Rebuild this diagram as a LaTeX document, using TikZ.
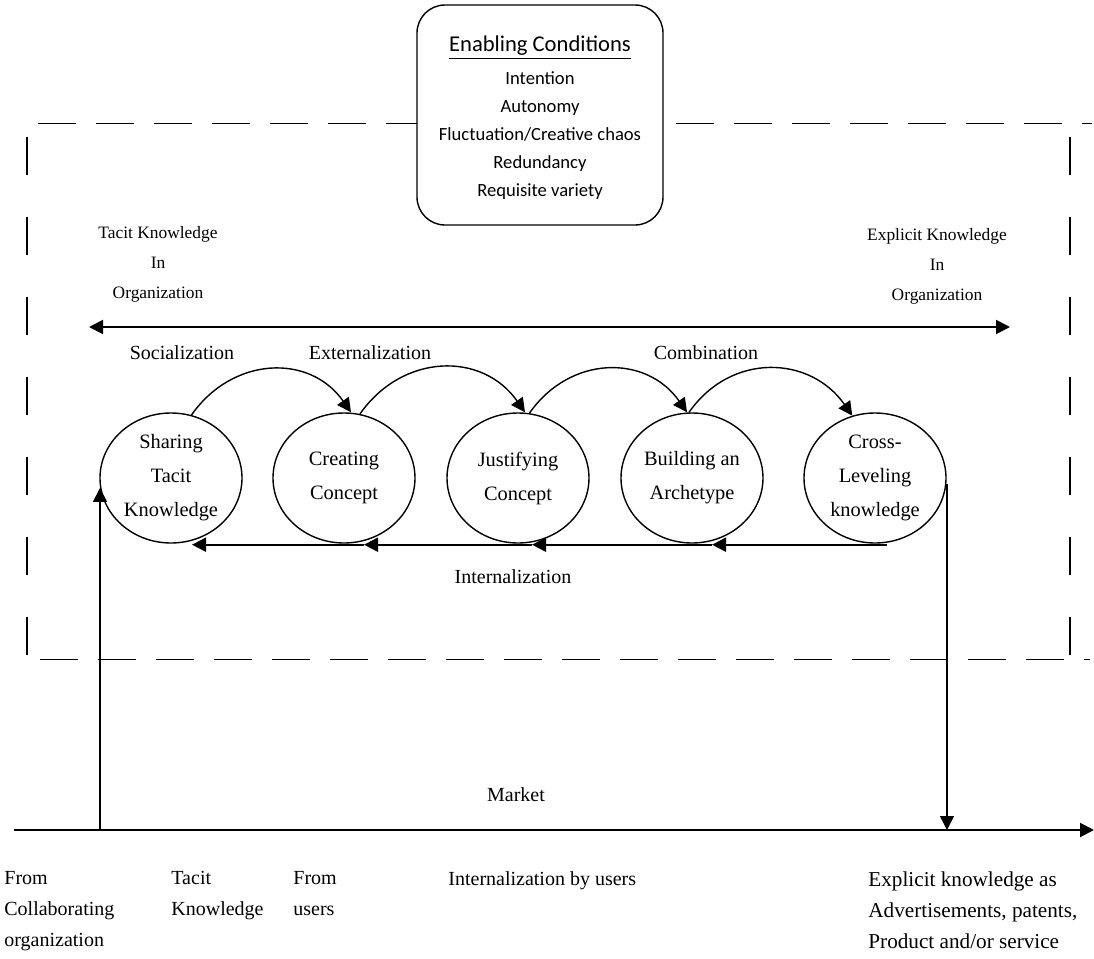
\documentclass[tikz,border=0pt]{standalone}
\usepackage{fontspec}
\setmainfont{Liberation Serif}
\newfontfamily\condfont{Carlito}
\usetikzlibrary{arrows.meta,calc,shapes.geometric}

\begin{document}
\begin{tikzpicture}[x=0.5pt,y=-0.5pt,
  tip/.style={-{Triangle[length=7pt,width=7pt]}},
  bothtips/.style={{Triangle[length=7pt,width=7pt]}-{Triangle[length=7pt,width=7pt]}},
  stage/.style={ellipse,draw,line width=0.7pt,minimum width=71pt,minimum height=65pt,
    inner sep=0pt,align=center,font=\fontsize{10.2}{17}\selectfont},
  lbl/.style={inner sep=0pt,align=center,font=\fontsize{10}{15}\selectfont},
  smalllbl/.style={inner sep=0pt,align=center,font=\fontsize{8.7}{15}\selectfont},
  footlbl/.style={inner sep=0pt,align=left,anchor=north west,font=\fontsize{10}{15.5}\selectfont},
  frameh/.style={line width=0.5pt,dash pattern=on 19pt off 10pt},
  framev/.style={line width=0.6pt,dash pattern=on 19pt off 21pt},
  heavy/.style={line width=1pt},
  arcline/.style={line width=0.7pt,tip,looseness=1.15},
  link/.style={line width=0.75pt}]

\useasboundingbox (0,0) rectangle (1094,959);

% organisation frame
\coordinate (ftl) at (38,123);
\coordinate (ftr) at (1092,123);
\coordinate (fbl) at (40,659);
\coordinate (fbr) at (1090,659);
\coordinate (flt) at (27,137);
\coordinate (flb) at (27,656);
\coordinate (frt) at (1070,137);
\coordinate (frb) at (1070,656);
\draw[frameh] (ftl) -- (ftr);
\draw[frameh] (fbl) -- (fbr);
\draw[framev] (flt) -- (flb);
\draw[framev] (frt) -- (frb);

% enabling conditions box
\node[draw,fill=white,line width=0.7pt,rounded corners=14pt,minimum width=123pt,
  minimum height=110pt,inner sep=0pt] (cond) at (540,115) {};
\node[inner sep=0pt,font=\condfont\fontsize{11.3}{14}\selectfont] (condtitle) at (540,48)
  {\underline{Enabling Conditions}};
\node[inner sep=0pt,align=center,font=\condfont\fontsize{9.3}{14}\selectfont] (condlist) at (540,136)
  {Intention\\Autonomy\\Fluctuation/Creative chaos\\Redundancy\\Requisite variety};

% knowledge axis
\node[smalllbl] (tacit) at (158,264) {Tacit Knowledge\\In\\Organization};
\node[smalllbl] (explicit) at (937,266) {Explicit Knowledge\\In\\Organization};
\coordinate (axL) at (89,327);
\coordinate (axR) at (1010,327);
\draw[heavy,bothtips] (axL) -- (axR);

% conversion labels
\node[lbl] (soc) at (182,353) {Socialization};
\node[lbl] (ext) at (370,353) {Externalization};
\node[lbl] (comb) at (706,353) {Combination};
\node[lbl] (intl) at (513,577) {Internalization};

% the five phases
\node[stage] (share)   at (171,478) {Sharing\\Tacit\\Knowledge};
\node[stage] (create)  at (344,478) {Creating\\Concept};
\node[stage] (justify) at (518,478) {Justifying\\Concept};
\node[stage] (build)   at (692,478) {Building an\\Archetype};
\node[stage] (cross)   at (875,478) {Cross-\\Leveling\\knowledge};

% forward arcs
\draw[arcline] (share.72) to[out=55,in=125] ($(create.north)+(7,0)$);
\draw[arcline] (create.76) to[out=55,in=125] ($(justify.north)+(7,0)$);
\draw[arcline] (justify.80) to[out=55,in=125] ($(build.north)+(-5,0)$);
\draw[arcline] ($(build.north)+(-3,0)$) to[out=55,in=125] (cross.110);

% internalization return line
\coordinate (r0) at ($(cross.south)+(12,1)$);
\coordinate (r1) at ($(build.south)+(20,1)$);
\coordinate (r2) at ($(justify.south)+(14,1)$);
\coordinate (r3) at ($(create.south)+(20,1)$);
\coordinate (r4) at ($(share.south)+(21,1)$);
\draw[heavy,tip] (r0) -- (r1);
\draw[heavy,tip] (r1) -- (r2);
\draw[heavy,tip] (r2) -- (r3);
\draw[heavy,tip] (r3) -- (r4);

% market
\coordinate (mk0) at (14,830);
\coordinate (mk1) at (1094,830);
\coordinate (mkL) at (100,830);
\coordinate (mkR) at (947,830);
\draw[heavy,tip] (mk0) -- (mk1);
\draw[link,tip] (mkL) -- (mkL |- share.188);
\draw[link,tip] (mkR |- cross.355) -- (mkR);
\node[lbl] (market) at (516,795) {Market};

% market annotations
\node[footlbl] (fromcol) at (4,871) {From\\Collaborating\\organization};
\node[footlbl] (tacitk) at (171,871) {Tacit\\Knowledge};
\node[footlbl] (fromusr) at (293,871) {From\\users};
\node[footlbl] (intusr) at (448,871) {Internalization by users};
\node[footlbl,font=\fontsize{10.6}{15.5}\selectfont] (explk) at (868,871)
  {Explicit knowledge as\\Advertisements, patents,\\Product and/or service};

\end{tikzpicture}
\end{document}
